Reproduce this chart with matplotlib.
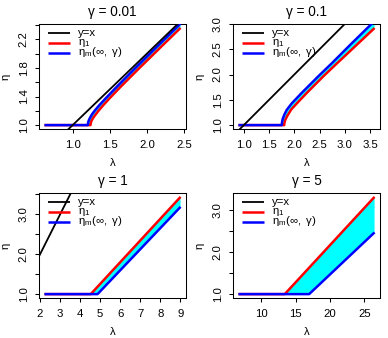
import numpy as np
import matplotlib
matplotlib.use('Agg')
import matplotlib.pyplot as plt

plt.rcParams['font.family'] = ['Liberation Sans', 'DejaVu Sans']
plt.rcParams['mathtext.fontset'] = 'custom'
plt.rcParams['mathtext.rm'] = 'Liberation Sans'
plt.rcParams['mathtext.it'] = 'Liberation Sans'
plt.rcParams['mathtext.bf'] = 'Liberation Sans:bold'
plt.rcParams['mathtext.sf'] = 'Liberation Sans'

# ---------------- data ----------------
gamma_labels = ['0.01', '0.1', '1', '5']

# gamma = 0.01
g1_lam_blue = [0.62, 1.203, 1.207, 1.215, 1.232, 1.26, 1.303, 1.36, 1.445, 1.588, 1.835, 2.137, 2.453]
g1_eta_blue = [1.0, 1.0, 1.03, 1.06, 1.10, 1.15, 1.21, 1.28, 1.375, 1.53, 1.79, 2.10, 2.42]
g1_lam_red = [0.62, 1.240, 1.244, 1.254, 1.275, 1.31, 1.355, 1.413, 1.497, 1.64, 1.89, 2.195, 2.453]
g1_eta_red = [1.0, 1.0, 1.03, 1.06, 1.10, 1.15, 1.21, 1.28, 1.375, 1.53, 1.79, 2.10, 2.36]

# gamma = 0.1
g2_lam_blue = [0.894, 1.752, 1.757, 1.77, 1.80, 1.85, 1.95, 2.15, 2.48, 2.75, 3.10, 3.59]
g2_eta_blue = [1.0, 1.0, 1.06, 1.12, 1.20, 1.30, 1.43, 1.64, 1.97, 2.23, 2.58, 3.06]
g2_lam_red = [0.894, 1.800, 1.806, 1.82, 1.86, 1.94, 2.06, 2.25, 2.58, 2.78, 3.10, 3.59]
g2_eta_red = [1.0, 1.0, 1.05, 1.10, 1.18, 1.31, 1.44, 1.64, 1.97, 2.16, 2.46, 2.92]

# gamma = 1
g3_lam_blue = [2.22, 4.87, 9.01]
g3_eta_blue = [1.0, 1.0, 3.19]
g3_lam_red = [2.22, 4.53, 9.01]
g3_eta_red = [1.0, 1.0, 3.44]

# gamma = 5
g4_lam_blue = [6.66, 16.97, 26.5]
g4_eta_blue = [1.0, 1.0, 2.46]
g4_lam_red = [6.66, 13.41, 26.5]
g4_eta_red = [1.0, 1.0, 3.30]

# ticks
g1_xticks = [1.0, 1.5, 2.0, 2.5]
g1_xlabels = ['1.0', '1.5', '2.0', '2.5']
g1_yticks = [1.0, 1.2, 1.4, 1.6, 1.8, 2.0, 2.2, 2.4]
g1_ylabels = ['1.0', '', '1.4', '', '1.8', '', '2.2', '']

g2_xticks = [1.0, 1.5, 2.0, 2.5, 3.0, 3.5]
g2_xlabels = ['1.0', '1.5', '2.0', '2.5', '3.0', '3.5']
g2_yticks = [1.0, 1.5, 2.0, 2.5, 3.0]
g2_ylabels = ['1.0', '1.5', '2.0', '2.5', '3.0']

g3_xticks = [2, 3, 4, 5, 6, 7, 8, 9]
g3_xlabels = ['2', '3', '4', '5', '6', '7', '8', '9']
g3_yticks = [1.0, 1.5, 2.0, 2.5, 3.0, 3.5]
g3_ylabels = ['1.0', '', '2.0', '', '3.0', '']

g4_xticks = [10, 15, 20, 25]
g4_xlabels = ['10', '15', '20', '25']
g4_yticks = [1.0, 1.5, 2.0, 2.5, 3.0]
g4_ylabels = ['1.0', '', '2.0', '', '3.0']

legend_labels = ['y=x', r'$\eta_1$', r'$\eta_m(\infty,\ \gamma)$']

panels = [
    (g1_lam_blue, g1_eta_blue, g1_lam_red, g1_eta_red, g1_xticks, g1_xlabels, g1_yticks, g1_ylabels),
    (g2_lam_blue, g2_eta_blue, g2_lam_red, g2_eta_red, g2_xticks, g2_xlabels, g2_yticks, g2_ylabels),
    (g3_lam_blue, g3_eta_blue, g3_lam_red, g3_eta_red, g3_xticks, g3_xlabels, g3_yticks, g3_ylabels),
    (g4_lam_blue, g4_eta_blue, g4_lam_red, g4_eta_red, g4_xticks, g4_xlabels, g4_yticks, g4_ylabels),
]

# ---------------- drawing ----------------
W, H = 388, 338
fig = plt.figure(figsize=(W / 100, H / 100), dpi=100)

BW, BH = 147, 105  # axes box size in px
FS = 8.2
LW_C = 1.8
LW_K = 1.3

for i, (lb, eb, lr, er, xt, xl, yt, yl) in enumerate(panels):
    r, c = divmod(i, 2)
    ax = fig.add_axes([(39 + 194 * c) / W, 1 - (129 + 169 * r) / H, BW / W, BH / H])
    lb, eb, lr, er = map(np.asarray, (lb, eb, lr, er))

    ax.fill(np.r_[lr, lb[::-1]], np.r_[er, eb[::-1]], color='#00FFFF', lw=0, zorder=1)
    ax.plot(lr, er, color='#FF0000', lw=LW_C, zorder=2, solid_capstyle='butt')
    ax.plot(lb, eb, color='#0000FF', lw=LW_C, zorder=3, solid_capstyle='butt')
    ax.axline((0, 0), slope=1, color='black', lw=LW_K, zorder=4)

    xlo = min(lb.min(), lr.min()); xhi = max(lb.max(), lr.max())
    px = 0.04 * (xhi - xlo)
    ax.set_xlim(xlo - px, xhi + px)
    ylo = min(er.min(), 1.0); yhi = er.max()
    py = 0.04 * (yhi - ylo)
    ax.set_ylim(ylo - py, yhi + py)

    ax.set_xticks(xt)
    ax.set_xticklabels(xl)
    ax.set_yticks(yt)
    ax.set_yticklabels(yl, rotation=90, va='center')
    ax.tick_params(direction='out', length=2.9, width=0.75, labelsize=FS, colors='black')
    ax.tick_params(axis='x', pad=5.0)
    ax.tick_params(axis='y', pad=4.5)
    for s in ax.spines.values():
        s.set_linewidth(0.75)
        s.set_color('black')

    ax.text(0.5, 1 + 12 / BH, 'γ = ' + gamma_labels[i], transform=ax.transAxes,
            ha='center', va='center', fontsize=9.8)
    ax.text(0.5, -34 / BH, 'λ', transform=ax.transAxes, ha='center', va='center', fontsize=FS)
    ax.text(-34 / BW, 0.5, 'η', transform=ax.transAxes, ha='center', va='center',
            rotation=90, fontsize=FS)

    # legend (top-left, no box)
    cols = ['black', '#FF0000', '#0000FF']
    lws = [LW_K, LW_C, LW_C]
    for k in range(3):
        yc = 1 - (9.3 + 9.7 * k) / BH
        ax.plot([9 / BW, 31 / BW], [yc, yc], color=cols[k], lw=lws[k],
                transform=ax.transAxes, clip_on=False, zorder=5, solid_capstyle='butt')
        ax.text(39 / BW, yc - 2.4 / BH, legend_labels[k], transform=ax.transAxes,
                ha='left', va='baseline', fontsize=FS, zorder=5)

fig.savefig('out.png', dpi=100)
